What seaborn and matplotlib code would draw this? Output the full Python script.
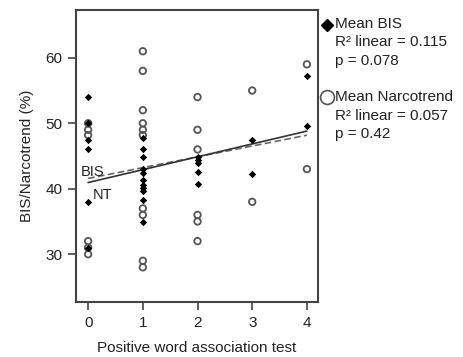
import matplotlib
matplotlib.use("Agg")
import matplotlib.pyplot as plt
from matplotlib.lines import Line2D
import seaborn as sns
import pandas as pd

# Mean BIS per positive word association score
bis_x = [0, 0, 0, 0, 0, 0,
         1, 1, 1, 1, 1, 1, 1, 1, 1, 1, 1,
         2, 2, 2, 2, 2,
         3, 3,
         4, 4]
bis_y = [54.0, 50.0, 47.5, 46.0, 38.0, 31.0,
         47.8, 46.1, 44.8, 43.0, 42.4, 41.4, 40.6, 40.1, 39.6, 38.3, 34.9,
         44.9, 44.4, 43.9, 42.6, 40.8,
         47.5, 42.3,
         57.2, 49.6]

# Mean Narcotrend per positive word association score
nt_x = [0, 0, 0, 0, 0, 0,
        1, 1, 1, 1, 1, 1, 1, 1, 1, 1,
        2, 2, 2, 2, 2, 2,
        3, 3,
        4, 4]
nt_y = [50.0, 49.0, 48.2, 32.0, 31.0, 30.0,
        61.0, 58.0, 52.0, 50.0, 49.0, 48.2, 37.0, 36.0, 29.0, 28.0,
        54.0, 49.0, 46.0, 36.0, 35.0, 32.0,
        55.0, 38.0,
        59.0, 43.0]

x_ticks = [0, 1, 2, 3, 4]
y_ticks = [30, 40, 50, 60]

legend_bis = ["Mean BIS", "R\u00b2 linear = 0.115", "p = 0.078"]
legend_nt = ["Mean Narcotrend", "R\u00b2 linear = 0.057", "p = 0.42"]

bis_df = pd.DataFrame({"x": bis_x, "y": bis_y})
nt_df = pd.DataFrame({"x": nt_x, "y": nt_y})

sns.set_style("ticks")
plt.rcParams["font.family"] = ["Liberation Sans", "DejaVu Sans"]

fig = plt.figure(figsize=(4.64, 3.57), dpi=100)
ax = fig.add_axes([0.164, 0.154, 0.521, 0.818])

sns.scatterplot(data=nt_df, x="x", y="y", ax=ax, marker="o", s=22,
                facecolors="none", edgecolor="#555555", linewidth=1.3, zorder=3)
sns.scatterplot(data=bis_df, x="x", y="y", ax=ax, marker="D", s=14,
                color="black", edgecolor="black", linewidth=0, zorder=4)

sns.regplot(data=bis_df, x="x", y="y", ax=ax, scatter=False, ci=None,
            line_kws=dict(color="#666666", lw=1.2, ls=(0, (4, 2))))
sns.regplot(data=nt_df, x="x", y="y", ax=ax, scatter=False, ci=None,
            line_kws=dict(color="#333333", lw=1.2, ls="-"))

ax.text(-0.13, 42.6, "BIS", fontsize=10.5, va="center", ha="left", color="#222222")
ax.text(0.09, 39.1, "NT", fontsize=10.5, va="center", ha="left", color="#222222")

ax.set_xlim(-0.22, 4.2)
ax.set_ylim(22.7, 67.3)
ax.set_xticks(x_ticks)
ax.set_yticks(y_ticks)
ax.tick_params(labelsize=11, length=6, width=1.2, color="#444444", pad=4,
               labelcolor="#222222")
ax.set_xlabel("Positive word association test", fontsize=11, color="#222222",
              labelpad=8)
ax.set_ylabel("BIS/Narcotrend (%)", fontsize=11, color="#222222", labelpad=8)
for sp in ax.spines.values():
    sp.set_visible(True)
    sp.set_color("#444444")
    sp.set_linewidth(1.5)

# legend block on the right
fig.add_artist(Line2D([0.705], [0.930], marker="D", color="black",
                      markersize=6, linestyle="none"))
fig.add_artist(Line2D([0.705], [0.728], marker="o", markerfacecolor="none",
                      markeredgecolor="#555555", markeredgewidth=1.2,
                      markersize=10, linestyle="none"))
for i, t in enumerate(legend_bis):
    fig.text(0.722, 0.933 - i * 0.052, t, fontsize=11, va="center",
             ha="left", color="#222222")
for i, t in enumerate(legend_nt):
    fig.text(0.722, 0.728 - i * 0.052, t, fontsize=11, va="center",
             ha="left", color="#222222")

fig.savefig("out.png", dpi=100)
